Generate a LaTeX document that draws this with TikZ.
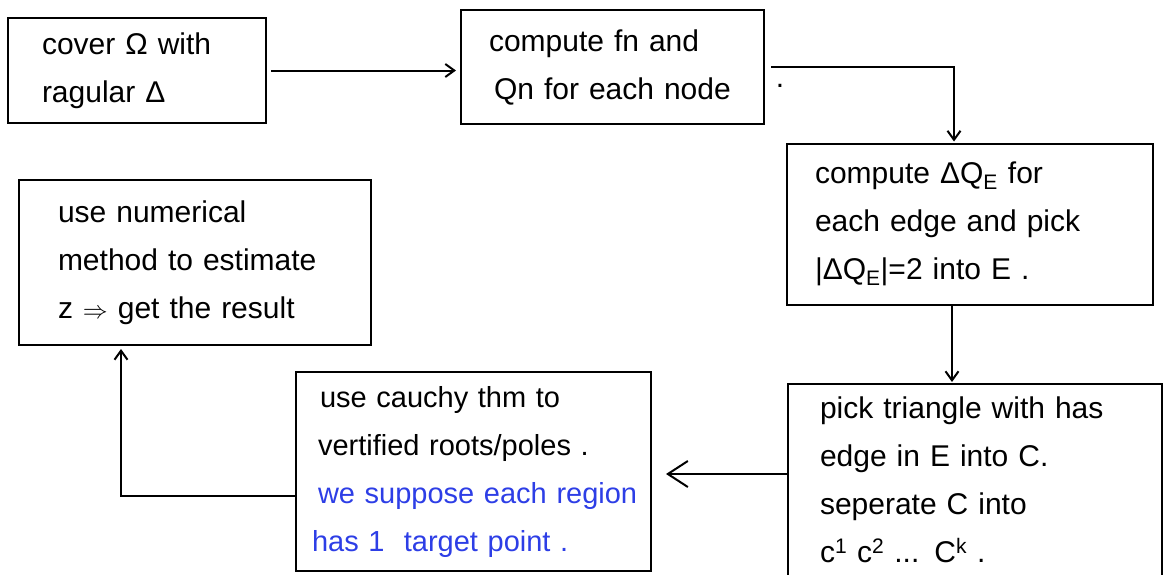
\documentclass[tikz,border=0pt]{standalone}
\usepackage{fontspec}
\setmainfont{Liberation Sans}
\usetikzlibrary{arrows.meta,calc}
\definecolor{penblue}{RGB}{45,62,230}
\begin{document}
\begin{tikzpicture}[x=1pt,y=-1pt,
  box/.style={draw, line width=2pt, rectangle, align=left,
    font=\fontsize{30}{48}\selectfont, inner ysep=0pt},
  arr/.style={line width=2pt, -{Straight Barb[length=9pt,width=13pt,line width=2pt]}},
  bigarr/.style={line width=2pt, -{Straight Barb[length=20pt,width=26pt,line width=2pt]}}]
\useasboundingbox (0,0) rectangle (1165,574);
\clip (0,0) rectangle (1165,574);

\node[box, text width=190pt, inner xsep=34pt, minimum height=105pt] (A) at (137,70.5)
  {cover Ω with\\ragular Δ};
\node[box, text width=247pt, inner xsep=28pt, minimum height=114pt] (B) at (612.5,67)
  {compute fn and\\\hspace*{5pt}Qn for each node};
\node[font=\fontsize{30}{30}\selectfont, inner sep=0pt] (Bdot) at (780,86) {.};
\node[box, text width=310pt, inner xsep=28pt, minimum height=161pt] (C) at (970,224)
  {compute ΔQ\textsubscript{E} for\\each edge and pick\\|ΔQ\textsubscript{E}|=2 into E .};
\node[box, text width=310pt, inner xsep=32pt, minimum height=192pt] (D) at (975,480)
  {pick triangle with has\\edge in E into C.\\seperate C into\\c\textsuperscript{1} c\textsuperscript{2} ... C\textsuperscript{k} .};
\node[box, text width=339pt, inner xsep=8pt, minimum height=199pt,
  font=\fontsize{29}{48}\selectfont] (E) at (473.5,471.5)
  {\mbox{\hspace*{16pt}use cauchy thm to}\\\mbox{\hspace*{14pt}vertified roots/poles .}\\\mbox{\hspace*{14pt}\textcolor{penblue}{we suppose each region}}\\\mbox{\hspace*{8pt}\textcolor{penblue}{has 1 \ target point .}}};
\node[box, text width=274pt, inner xsep=39pt, minimum height=165pt] (F) at (195,262.5)
  {use numerical\\method to estimate\\z $\Rightarrow$ get the result};

\coordinate (cd) at ($(C.south west)+(166,0)$);
\coordinate (de) at ($(D.west)+(0,-6)$);
\coordinate (ef) at ($(E.west)+(0,24.5)$);

\draw[arr, shorten <=4pt, shorten >=4pt] (A.east) -- (A.east -| B.west);
\draw[arr, shorten <=6pt, shorten >=1pt] (B.east) -| ($(C.north west)+(168,0)$);
\draw[arr, shorten >=1pt] (cd) -- (cd |- D.north);
\draw[bigarr, shorten >=14pt] (de) -- (de -| E.east);
\draw[arr, shorten >=3pt] (ef) -| ($(F.south west)+(103,0)$);
\end{tikzpicture}
\end{document}
